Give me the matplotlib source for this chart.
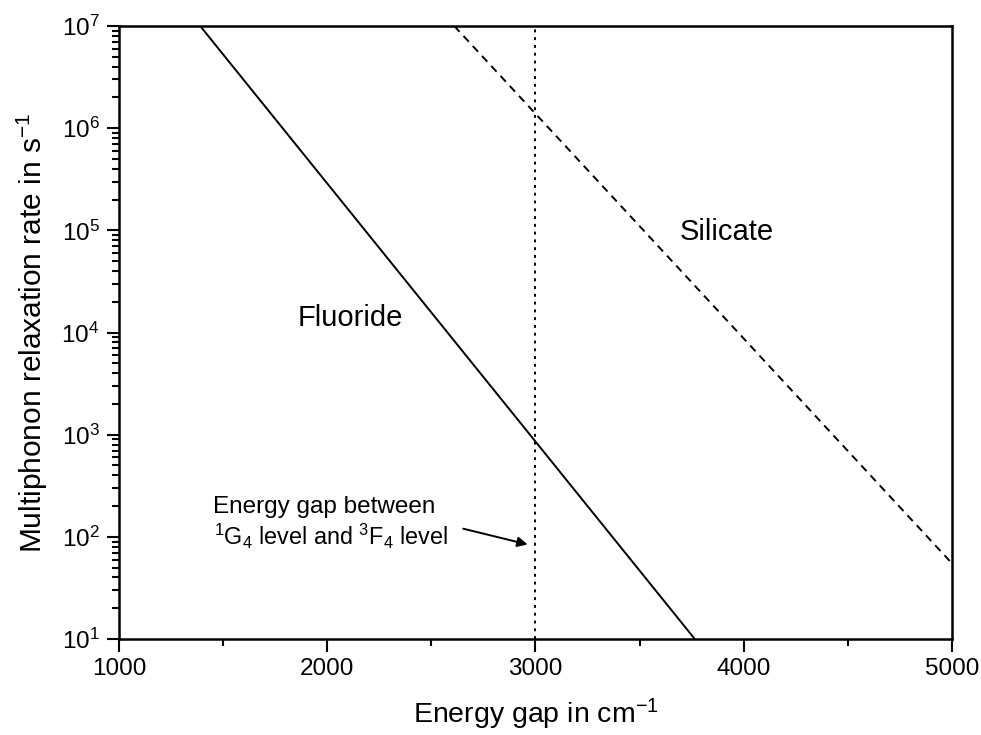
import matplotlib
matplotlib.use("Agg")
import matplotlib.pyplot as plt
from matplotlib.ticker import LogLocator, MultipleLocator, LogFormatterMathtext, NullFormatter

plt.rcParams['font.family'] = ['Liberation Sans', 'DejaVu Sans']
plt.rcParams['mathtext.fontset'] = 'custom'
plt.rcParams['mathtext.rm'] = 'Liberation Sans'
plt.rcParams['mathtext.it'] = 'Liberation Sans:italic'
plt.rcParams['mathtext.bf'] = 'Liberation Sans:bold'

# Multiphonon relaxation rate vs energy gap (straight lines on a log scale)
fluoride_gap = [1390, 3765]
fluoride_rate = [1e7, 1e1]
silicate_gap = [2610, 5000]
silicate_rate = [1e7, 55]
level_gap = 3000
x_limits = [1000, 5000]
y_limits = [1e1, 1e7]
x_ticks = [1000, 2000, 3000, 4000, 5000]
y_ticks = [1e1, 1e2, 1e3, 1e4, 1e5, 1e6, 1e7]

fig = plt.figure(figsize=(9.81, 7.35), dpi=100)
ax = fig.add_axes([0.1213, 0.1306, 0.8491, 0.834])

ax.plot(fluoride_gap, fluoride_rate, color='black', lw=1.4, solid_capstyle='butt')
ax.plot(silicate_gap, silicate_rate, color='black', lw=1.4, ls=(0, (4, 3)))
ax.plot([level_gap, level_gap], y_limits, color='black', lw=1.4, ls=(0, (1.5, 2.5)))

ax.set_yscale('log')
ax.set_xlim(*x_limits)
ax.set_ylim(*y_limits)
ax.set_xticks(x_ticks)
ax.set_yticks(y_ticks)
ax.xaxis.set_minor_locator(MultipleLocator(500))
ax.yaxis.set_minor_locator(LogLocator(base=10, subs=range(2, 10), numticks=100))
ax.yaxis.set_major_formatter(LogFormatterMathtext())
ax.yaxis.set_minor_formatter(NullFormatter())

ax.tick_params(which='major', direction='out', length=9, width=1.5, labelsize=17.5, top=False, right=False, pad=5)
ax.tick_params(which='minor', direction='out', length=5, width=1.5, top=False, right=False)
for s in ax.spines.values():
    s.set_linewidth(1.8)

ax.set_xlabel('Energy gap in cm$^{-1}$', fontsize=20.5, labelpad=12)
ax.set_ylabel('Multiphonon relaxation rate in s$^{-1}$', fontsize=21.5, labelpad=8)

ax.text(2109, 1.4e4, 'Fluoride', fontsize=21, ha='center', va='center')
ax.text(3920, 9.6e4, 'Silicate', fontsize=21, ha='center', va='center')

ax.text(1450, 171, 'Energy gap between', fontsize=17.5, ha='left', va='baseline')
ax.text(1455, 83, '$^1$G$_4$ level and $^3$F$_4$ level', fontsize=16.8, ha='left', va='baseline')
ax.annotate('', xy=(2975, 83), xytext=(2640, 122),
            arrowprops=dict(arrowstyle='-|>', color='black', lw=1.4, mutation_scale=15))

fig.savefig('out.png', dpi=100)
